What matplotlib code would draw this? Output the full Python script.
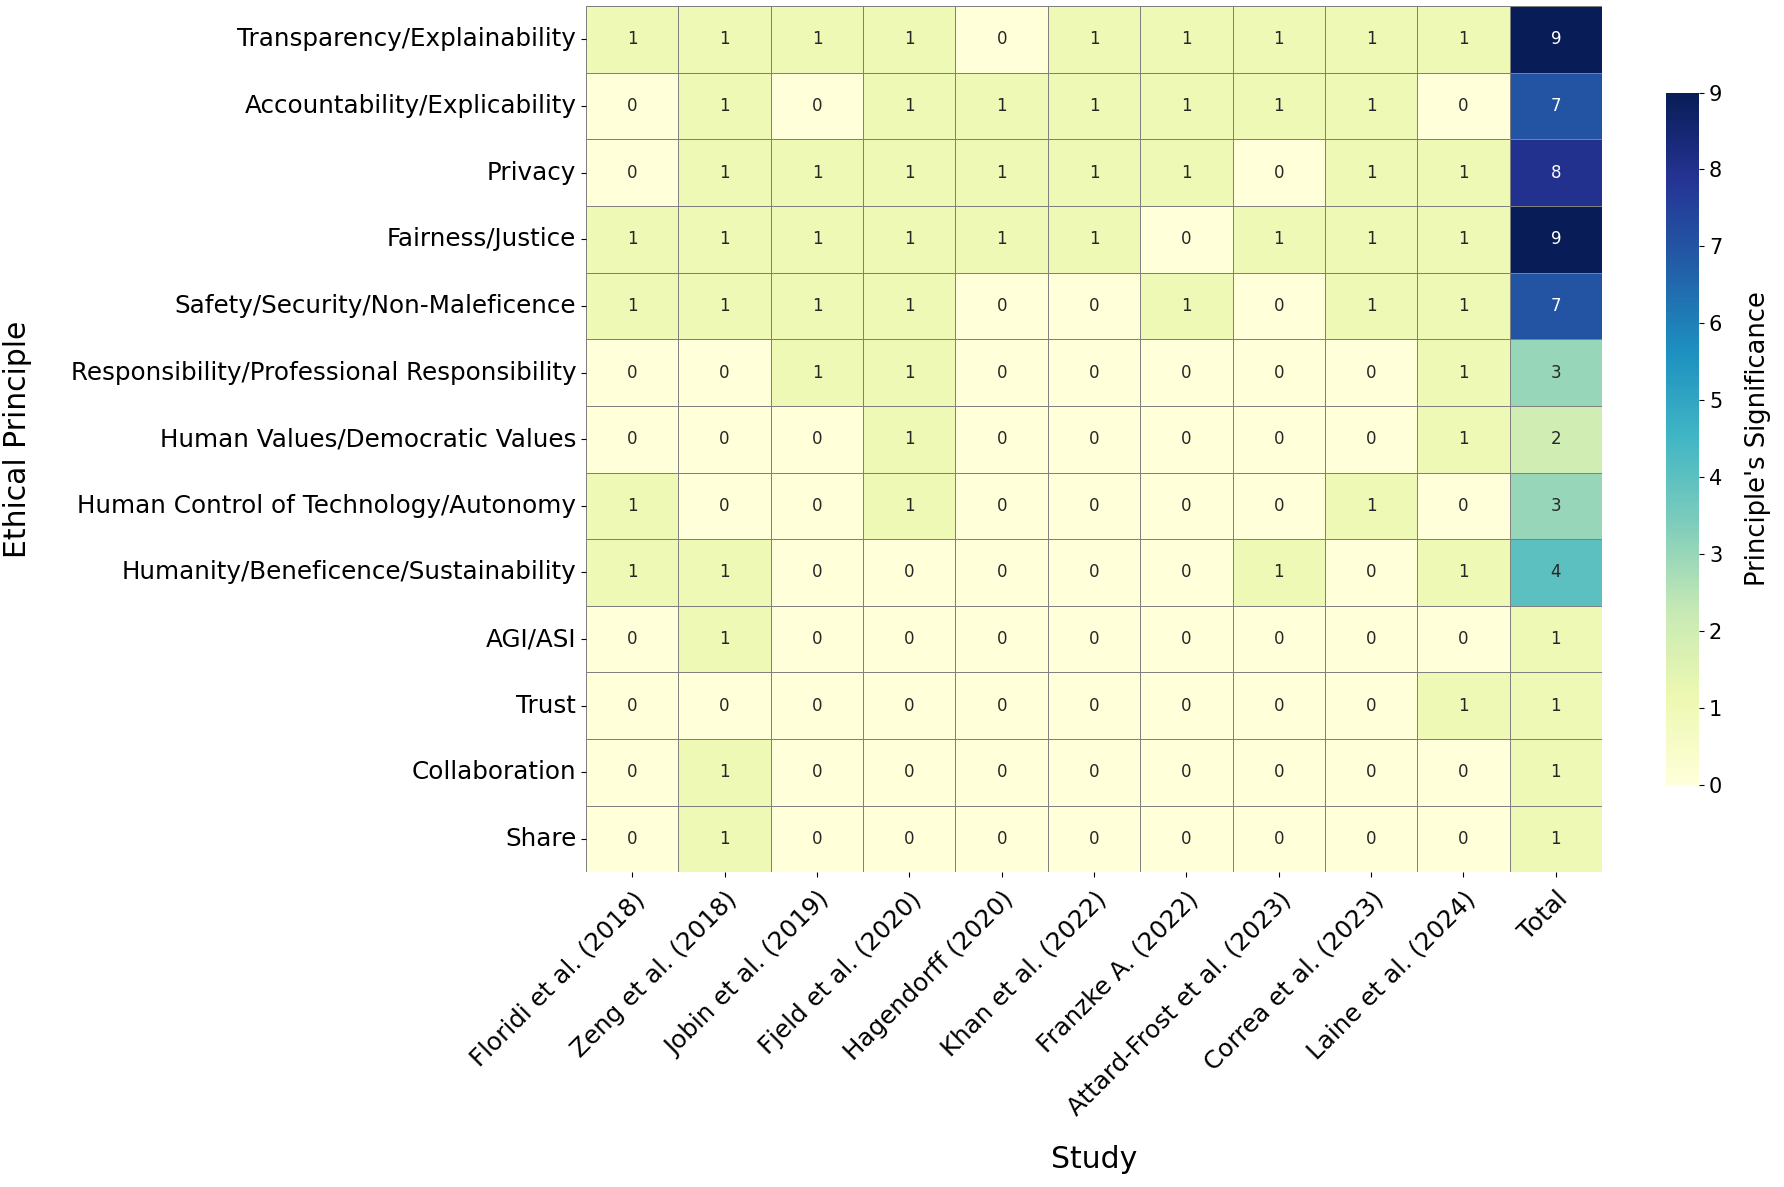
import numpy as np
import matplotlib
matplotlib.use('Agg')
import matplotlib.pyplot as plt
import seaborn as sns

# principios eticos (linhas)
principios = ['Transparency/Explainability', 'Accountability/Explicability', 'Privacy',
              'Fairness/Justice', 'Safety/Security/Non-Maleficence',
              'Responsibility/Professional Responsibility', 'Human Values/Democratic Values',
              'Human Control of Technology/Autonomy', 'Humanity/Beneficence/Sustainability',
              'AGI/ASI', 'Trust', 'Collaboration', 'Share']

# estudos (colunas)
estudos = ['Floridi et al. (2018)', 'Zeng et al. (2018)', 'Jobin et al. (2019)',
           'Fjeld et al. (2020)', 'Hagendorff (2020)', 'Khan et al. (2022)',
           'Franzke A. (2022)', 'Attard-Frost et al. (2023)', 'Correa et al. (2023)',
           'Laine et al. (2024)']

# presenca do principio em cada estudo
transparency = [1, 1, 1, 1, 0, 1, 1, 1, 1, 1]
accountability = [0, 1, 0, 1, 1, 1, 1, 1, 1, 0]
privacy = [0, 1, 1, 1, 1, 1, 1, 0, 1, 1]
fairness = [1, 1, 1, 1, 1, 1, 0, 1, 1, 1]
safety = [1, 1, 1, 1, 0, 0, 1, 0, 1, 1]
responsibility = [0, 0, 1, 1, 0, 0, 0, 0, 0, 1]
human_values = [0, 0, 0, 1, 0, 0, 0, 0, 0, 1]
human_control = [1, 0, 0, 1, 0, 0, 0, 0, 1, 0]
humanity = [1, 1, 0, 0, 0, 0, 0, 1, 0, 1]
agi_asi = [0, 1, 0, 0, 0, 0, 0, 0, 0, 0]
trust = [0, 0, 0, 0, 0, 0, 0, 0, 0, 1]
collaboration = [0, 1, 0, 0, 0, 0, 0, 0, 0, 0]
share = [0, 1, 0, 0, 0, 0, 0, 0, 0, 0]

linhas = [transparency, accountability, privacy, fairness, safety, responsibility,
          human_values, human_control, humanity, agi_asi, trust, collaboration, share]

matriz = np.array(linhas)
total = matriz.sum(axis=1, keepdims=True)
dados = np.hstack([matriz, total])
colunas = estudos + ['Total']

fig = plt.figure(figsize=(17.84, 11.87), dpi=100)
ax = fig.add_axes([0.3285, 0.265, 0.5695, 0.73])
cax = fig.add_axes([0.934, 0.339, 0.0185, 0.583])

sns.heatmap(dados, ax=ax, cbar_ax=cax, cmap='YlGnBu', vmin=0, vmax=9,
            annot=True, fmt='d', annot_kws={'fontsize': 12},
            linewidths=0.6, linecolor='gray',
            xticklabels=colunas, yticklabels=principios,
            cbar_kws={'label': "Principle's Significance"})

ax.set_xticklabels(colunas, rotation=45, ha='right', rotation_mode='anchor', fontsize=17.7)
ax.set_yticklabels(principios, rotation=0, fontsize=17.7)
ax.tick_params(axis='x', pad=7)
ax.set_xlabel('Study', fontsize=21.5)
ax.set_ylabel('Ethical Principle', fontsize=21.5)
ax.xaxis.set_label_coords(0.5, -0.315)
ax.yaxis.set_label_coords(-0.545, 0.5)

cax.tick_params(labelsize=15)
cax.set_ylabel("Principle's Significance", fontsize=18.5, labelpad=16)

fig.savefig('out.png', dpi=100)
